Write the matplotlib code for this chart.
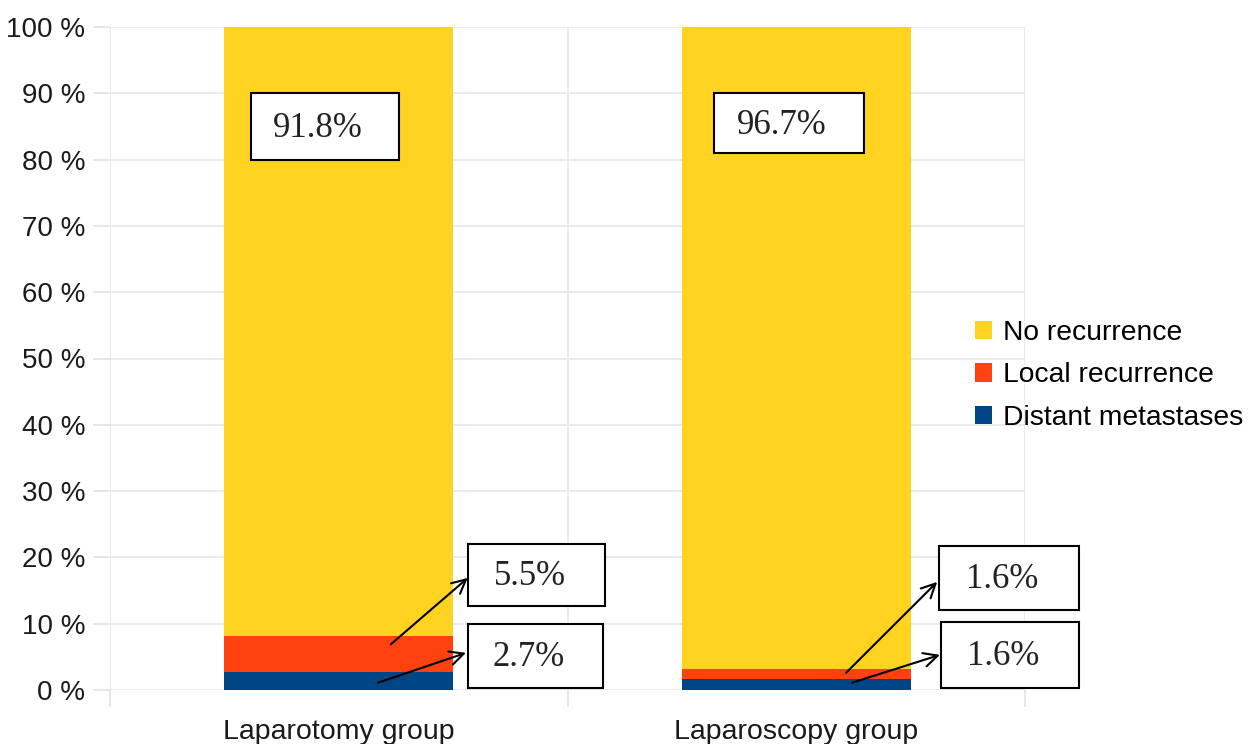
import matplotlib
matplotlib.use("Agg")
import matplotlib.pyplot as plt
from matplotlib.patches import Patch, Rectangle
import numpy as np

categories = ["Laparotomy group", "Laparoscopy group"]
series_names = ["Distant metastases", "Local recurrence", "No recurrence"]
distant = [2.7, 1.6]
local = [5.5, 1.6]
none_rec = [91.8, 96.7]
colors = ["#004586", "#FF420E", "#FFD320"]
ytick_labels = [f"{v} %" for v in range(0, 101, 10)]

plt.rcParams['font.family'] = ['Liberation Sans', 'DejaVu Sans']

fig = plt.figure(figsize=(12.57, 7.44), dpi=100)
ax = fig.add_axes([110/1257, 54/744, 915/1257, 663/744])

vals = np.array([distant, local, none_rec], dtype=float)
totals = vals.sum(axis=0)
pct = vals / totals * 100
x = np.arange(len(categories)) + 0.5
bottom = np.zeros(len(categories))
for i, name in enumerate(series_names):
    ax.bar(x, pct[i], width=0.5, bottom=bottom, color=colors[i], label=name, zorder=2)
    bottom += pct[i]

ax.set_xlim(0, 2)
ax.set_ylim(0, 100)
ax.set_yticks(range(0, 101, 10))
ax.set_yticklabels(ytick_labels, fontsize=20, color="#1a1a1a")
ax.set_xticks(x)
ax.set_xticklabels(categories, fontsize=20.5, color="#1a1a1a")
ax.tick_params(axis='x', which='major', length=0, pad=21)
ax.set_xticks([0, 1, 2], minor=True)
ax.tick_params(axis='x', which='minor', length=12, color="#e3e3e3", width=1.2)
ax.tick_params(axis='y', length=12, color="#e3e3e3", width=1.2, pad=6)
ax.grid(axis='y', color="#e8e8e8", linewidth=1.2, zorder=0)
ax.grid(axis='x', which='minor', color="#e8e8e8", linewidth=1.2, zorder=0)
for s in ax.spines.values():
    s.set_visible(False)

# annotation boxes: (x0, x1, y0, y1, text)
labels = [
    (0.308, 0.632, 80.0, 90.0, f"{none_rec[0]}%"),
    (1.320, 1.648, 81.0, 90.0, f"{none_rec[1]}%"),
    (0.782, 1.082, 12.7, 22.0, f"{local[0]}%"),
    (0.783, 1.078, 0.3, 10.0, f"{distant[0]}%"),
    (1.812, 2.118, 12.1, 21.7, f"{local[1]}%"),
    (1.817, 2.118, 0.3, 10.3, f"{distant[1]}%"),
]
for x0, x1, y0, y1, t in labels:
    r = Rectangle((x0, y0), x1 - x0, y1 - y0, facecolor="white", edgecolor="black",
                  linewidth=1.5, zorder=4, clip_on=False)
    ax.add_patch(r)
    ax.text((x0 + x1) / 2 - 0.015, (y0 + y1) / 2 - 0.3, t, ha="center", va="center",
            fontsize=25, family=["Liberation Serif", "DejaVu Serif"], zorder=5, color="#222222")

arrows = [
    ((0.614, 6.9), (0.782, 16.9)),
    ((0.586, 1.1), (0.778, 5.6)),
    ((1.609, 2.6), (1.808, 16.3)),
    ((1.622, 1.1), (1.814, 5.3)),
]
for (sx, sy), (ex, ey) in arrows:
    ax.annotate("", xy=(ex, ey), xytext=(sx, sy),
                arrowprops=dict(arrowstyle="->", color="black", lw=1.5,
                                mutation_scale=25, shrinkA=0, shrinkB=0),
                zorder=6, annotation_clip=False)

handles = [Patch(facecolor=colors[i], edgecolor='none') for i in [2, 1, 0]]
names = [series_names[i] for i in [2, 1, 0]]
fig.legend(handles, names, loc="upper left", bbox_to_anchor=(975/1257, 1 - 320/744),
           frameon=False, fontsize=20.3, handlelength=0.62, handleheight=0.62,
           handletextpad=0.38, labelspacing=0.58, borderpad=0, borderaxespad=0)

fig.savefig("out.png", dpi=100, facecolor="white")
